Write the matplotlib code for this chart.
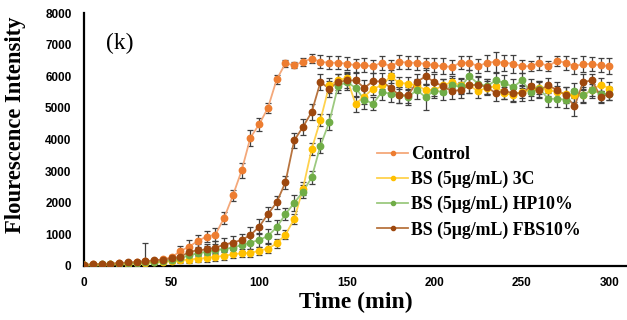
import matplotlib
matplotlib.use('Agg')
import matplotlib.pyplot as plt
import numpy as np

# Fluorescence readings every 5 min, 0..300
time_min = np.arange(0, 301, 5)

control = [
    40, 50, 60, 70, 80, 100, 110, 150, 170, 210,
    270, 470, 610, 790, 930, 990, 1520, 2230, 3020, 4060,
    4480, 5000, 5900, 6410, 6350, 6460, 6560, 6460, 6430, 6430,
    6400, 6350, 6350, 6320, 6430, 6320, 6460, 6430, 6430, 6390,
    6350, 6320, 6300, 6430, 6430, 6320, 6430, 6460, 6430, 6400,
    6320, 6320, 6430, 6320, 6490, 6430, 6320, 6390, 6390, 6350,
    6320]
bs_3c = [
    20, 30, 40, 50, 60, 70, 80, 90, 110, 130,
    150, 180, 200, 230, 250, 290, 320, 370, 400, 410,
    480, 550, 710, 990, 1480, 2450, 3700, 4620, 5710, 5870,
    5950, 5130, 5360, 5610, 5710, 6000, 5790, 5770, 5710, 5570,
    5570, 5710, 5820, 5710, 5710, 5530, 5640, 5680, 5470, 5400,
    5500, 5570, 5640, 5570, 5500, 5450, 5400, 5400, 5570, 5740,
    5610]
bs_hp = [
    30, 40, 50, 60, 70, 80, 90, 110, 130, 160,
    190, 250, 330, 400, 450, 490, 540, 580, 660, 740,
    820, 950, 1220, 1640, 1990, 2350, 2800, 3810, 4550, 5680,
    5820, 5640, 5260, 5130, 5500, 5450, 5420, 5340, 5570, 5340,
    5550, 5500, 5710, 5680, 6000, 5770, 5680, 5870, 5790, 5660,
    5870, 5500, 5610, 5290, 5290, 5260, 5550, 5400, 5570, 5450,
    5450]
bs_fbs = [
    30, 50, 60, 70, 90, 110, 120, 140, 180, 200,
    240, 290, 440, 500, 520, 580, 670, 740, 820, 975,
    1240, 1640, 2010, 2650, 3970, 4400, 4870, 5820, 5610, 5820,
    5870, 5870, 5640, 5840, 5840, 5640, 5400, 5400, 5820, 6000,
    5820, 5680, 5530, 5570, 5710, 5740, 5660, 5470, 5530, 5470,
    5470, 5680, 5570, 5710, 5570, 5400, 5050, 5820, 5870, 5340,
    5450]

control_err = [
    20, 20, 20, 20, 30, 30, 40, 560, 40, 50,
    60, 150, 200, 200, 180, 200, 180, 170, 250, 250,
    200, 170, 130, 100, 100, 120, 150, 200, 200, 200,
    200, 200, 220, 200, 220, 200, 220, 200, 220, 200,
    220, 250, 220, 200, 220, 220, 250, 320, 250, 280,
    200, 150, 220, 150, 150, 220, 250, 250, 220, 220,
    250]
bs_3c_err = [
    20, 20, 20, 20, 20, 30, 30, 40, 40, 50,
    60, 80, 100, 120, 120, 120, 120, 120, 120, 120,
    130, 130, 130, 150, 150, 200, 200, 200, 250, 200,
    200, 250, 250, 200, 200, 200, 200, 200, 200, 200,
    200, 200, 200, 250, 250, 220, 200, 200, 200, 200,
    200, 200, 200, 200, 200, 200, 200, 200, 200, 200,
    200]
bs_hp_err = [
    20, 20, 20, 20, 20, 30, 30, 40, 40, 50,
    60, 100, 150, 180, 180, 200, 200, 180, 200, 220,
    220, 230, 220, 180, 250, 200, 200, 250, 250, 200,
    250, 300, 300, 200, 250, 250, 250, 250, 300, 400,
    250, 250, 250, 250, 200, 250, 250, 250, 250, 250,
    250, 250, 250, 250, 250, 250, 250, 250, 250, 250,
    200]
bs_fbs_err = [
    20, 20, 20, 20, 30, 30, 40, 40, 50, 60,
    80, 150, 180, 200, 180, 200, 200, 200, 200, 250,
    230, 220, 200, 200, 250, 250, 250, 250, 250, 250,
    250, 250, 250, 250, 250, 250, 250, 250, 250, 250,
    250, 250, 250, 250, 250, 250, 250, 250, 250, 250,
    250, 250, 250, 250, 250, 250, 300, 250, 200, 200,
    200]

labels = ['Control', 'BS (5μg/mL) 3C', 'BS (5μg/mL) HP10%', 'BS (5μg/mL) FBS10%']
colors = ['#ED7D31', '#FFC000', '#70AD47', '#9E480E']
line_colors = ['#F4A87A', '#FFD24D', '#9CC97F', '#B8743F']

serif = ['Liberation Serif', 'DejaVu Serif']
sans = ['Liberation Sans', 'DejaVu Sans']

fig = plt.figure(figsize=(6.27, 3.2), dpi=100)
ax = fig.add_axes([0.134, 0.169, 0.866, 0.79])

series = [(control, control_err), (bs_3c, bs_3c_err), (bs_hp, bs_hp_err), (bs_fbs, bs_fbs_err)]
for (vals, errs), label, c, lc in zip(series, labels, colors, line_colors):
    ax.errorbar(time_min, vals, yerr=errs, fmt='none', ecolor='#404040',
                elinewidth=0.9, capsize=2.5, capthick=0.9, zorder=2)
    ax.plot(time_min, vals, color=lc, linewidth=1.3, zorder=3)
    ax.plot(time_min, vals, linestyle='none', marker='o', markersize=4.6,
            color=c, zorder=4)
    # legend proxy
    ax.plot([], [], color=lc, linewidth=1.3, marker='o', markersize=3,
            markerfacecolor=c, markeredgecolor=c, label=label)

ax.set_xlim(0, 310)
ax.set_ylim(0, 8000)
ax.set_xticks(np.arange(0, 301, 50))
ax.set_yticks(np.arange(0, 8001, 1000))
ax.tick_params(length=0)
ax.tick_params(axis='y', pad=9)
ax.tick_params(axis='x', pad=8)
for lab in ax.get_xticklabels() + ax.get_yticklabels():
    lab.set_fontfamily(sans)
    lab.set_fontweight('bold')
    lab.set_fontsize(8.5)

for side in ['top', 'right']:
    ax.spines[side].set_visible(False)
for side in ['left', 'bottom']:
    ax.spines[side].set_linewidth(1.6)

ax.set_xlabel('Time (min)', family=serif, fontweight='bold', fontsize=17, labelpad=2)
ax.set_ylabel('Flourescence Intensity', family=serif, fontweight='bold', fontsize=16.3)
ax.yaxis.set_label_coords(-0.106, 0.557)

ax.text(12.5, 7050, '(k)', family=serif, fontsize=17, va='center', ha='left')

ax.legend(loc='upper left', bbox_to_anchor=(0.54, 0.475), frameon=False,
          prop={'family': serif, 'weight': 'bold', 'size': 12.8},
          handlelength=1.75, handletextpad=0.15, labelspacing=0.45,
          borderaxespad=0, borderpad=0)

fig.savefig('out.png', dpi=100)
